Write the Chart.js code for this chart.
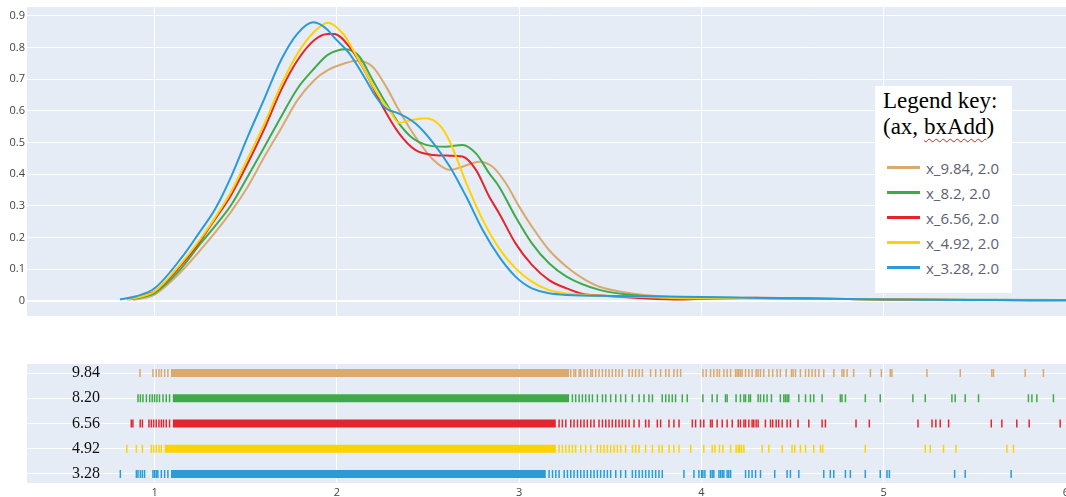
<!DOCTYPE html>
<html><head><meta charset="utf-8">
<script src="https://cdn.jsdelivr.net/npm/chart.js@4.4.0/dist/chart.umd.min.js"></script>
<style>
html,body{margin:0;padding:0;background:#fff;width:1066px;height:497px;overflow:hidden;}
#top{position:absolute;left:0;top:0;}
#rug{position:absolute;left:0;top:330px;}
#legend{position:absolute;left:875px;top:86px;width:137px;height:207px;background:#fff;box-sizing:border-box;}
#legend .title{font-family:"Liberation Serif",serif;font-size:23px;line-height:26px;color:#000;padding:2px 0 0 8px;}
#legend .sp{text-decoration:underline wavy #e02020;text-decoration-thickness:1px;text-underline-offset:4px;text-decoration-skip-ink:none;}
#items{position:absolute;left:0;top:69px;}
#items .row{height:25px;display:flex;align-items:center;}
#items .sw{width:33px;height:3px;margin-left:12px;}
#items .tx{margin-left:6px;font-family:"Open Sans",sans-serif;font-size:15px;color:#5b6272;}
</style></head>
<body>
<canvas id="top" width="1066" height="330"></canvas>
<canvas id="rug" width="1066" height="167"></canvas>
<div id="legend"><div class="title">Legend key:<br>(ax, <span class="sp">bxAdd</span>)</div><div id="items"></div></div>
<script>
// ---------- DATA ----------
const seriesNames = ['x_9.84, 2.0', 'x_8.2, 2.0', 'x_6.56, 2.0', 'x_4.92, 2.0', 'x_3.28, 2.0'];
const rugLabels = ['9.84', '8.20', '6.56', '4.92', '3.28'];
const xTicks = [1, 2, 3, 4, 5, 6];
const xTickLabels = ['1', '2', '3', '4', '5', '6'];
const yTicks = [0, 0.1, 0.2, 0.3, 0.4, 0.5, 0.6, 0.7, 0.8, 0.9];
const yTickLabels = ['0', '0.1', '0.2', '0.3', '0.4', '0.5', '0.6', '0.7', '0.8', '0.9'];

// density curves (x, y)
const kde984X = [0.88, 0.95, 1.0, 1.146, 1.25, 1.329, 1.42, 1.511, 1.603, 1.694, 1.785, 1.877, 1.95, 2.04, 2.11, 2.196, 2.27, 2.34, 2.43, 2.53, 2.62, 2.689, 2.781, 2.854, 2.927, 3.0, 3.07, 3.164, 3.26, 3.347, 3.44, 3.62, 3.8, 4.0, 4.3, 4.8, 5.2, 5.6, 6.0];
const kde984Y = [0.004, 0.01, 0.02, 0.093, 0.16, 0.214, 0.282, 0.361, 0.456, 0.545, 0.635, 0.698, 0.729, 0.75, 0.759, 0.74, 0.677, 0.603, 0.519, 0.445, 0.414, 0.424, 0.44, 0.424, 0.372, 0.298, 0.235, 0.161, 0.108, 0.072, 0.045, 0.024, 0.014, 0.008, 0.009, 0.006, 0.004, 0.003, 0.002];
const kde82X = [0.86, 0.95, 1.0, 1.146, 1.25, 1.329, 1.42, 1.511, 1.603, 1.694, 1.785, 1.877, 1.95, 2.05, 2.123, 2.196, 2.27, 2.34, 2.416, 2.489, 2.598, 2.689, 2.763, 2.836, 2.89, 2.98, 3.07, 3.164, 3.26, 3.44, 3.62, 3.8, 4.1, 4.5, 5.0, 5.5, 6.0];
const kde82Y = [0.005, 0.015, 0.025, 0.103, 0.18, 0.235, 0.303, 0.393, 0.487, 0.582, 0.672, 0.735, 0.777, 0.795, 0.772, 0.698, 0.624, 0.561, 0.514, 0.493, 0.487, 0.493, 0.466, 0.403, 0.361, 0.266, 0.182, 0.119, 0.077, 0.035, 0.019, 0.012, 0.01, 0.008, 0.005, 0.004, 0.003];
const kde656X = [0.85, 0.95, 1.0, 1.146, 1.25, 1.329, 1.42, 1.511, 1.603, 1.694, 1.785, 1.877, 1.95, 1.986, 2.068, 2.16, 2.251, 2.34, 2.43, 2.53, 2.62, 2.689, 2.763, 2.836, 2.89, 2.98, 3.07, 3.164, 3.26, 3.35, 3.44, 3.7, 3.9, 4.3, 4.8, 5.2, 5.6, 6.0];
const kde656Y = [0.005, 0.02, 0.03, 0.114, 0.19, 0.256, 0.335, 0.435, 0.545, 0.666, 0.761, 0.824, 0.843, 0.843, 0.803, 0.719, 0.614, 0.53, 0.477, 0.461, 0.459, 0.456, 0.414, 0.329, 0.277, 0.182, 0.114, 0.066, 0.04, 0.022, 0.017, 0.008, 0.005, 0.01, 0.006, 0.004, 0.003, 0.002];
const kde492X = [0.85, 0.95, 1.0, 1.146, 1.25, 1.329, 1.42, 1.511, 1.603, 1.694, 1.785, 1.877, 1.95, 2.04, 2.068, 2.16, 2.233, 2.288, 2.34, 2.416, 2.489, 2.562, 2.62, 2.71, 2.8, 2.89, 2.98, 3.07, 3.16, 3.26, 3.6, 3.9, 4.3, 4.8, 5.2, 5.6, 6.0];
const kde492Y = [0.005, 0.018, 0.03, 0.119, 0.195, 0.261, 0.345, 0.451, 0.561, 0.682, 0.782, 0.851, 0.879, 0.84, 0.814, 0.719, 0.645, 0.603, 0.563, 0.572, 0.577, 0.556, 0.503, 0.372, 0.256, 0.166, 0.103, 0.061, 0.035, 0.024, 0.014, 0.009, 0.008, 0.006, 0.004, 0.003, 0.002];
const kde328X = [0.81, 0.9, 1.0, 1.146, 1.25, 1.329, 1.42, 1.511, 1.603, 1.694, 1.785, 1.87, 1.95, 1.977, 2.068, 2.16, 2.214, 2.27, 2.34, 2.43, 2.53, 2.62, 2.71, 2.8, 2.89, 2.98, 3.07, 3.26, 3.5, 3.8, 4.1, 4.4, 4.8, 5.2, 5.6, 6.0];
const kde328Y = [0.005, 0.015, 0.04, 0.135, 0.22, 0.287, 0.393, 0.519, 0.64, 0.761, 0.845, 0.88, 0.856, 0.837, 0.782, 0.698, 0.645, 0.608, 0.592, 0.561, 0.498, 0.424, 0.329, 0.224, 0.14, 0.077, 0.04, 0.019, 0.016, 0.014, 0.012, 0.009, 0.006, 0.004, 0.003, 0.002];

// rug: solid dense band (start, end) per series, and the separately visible marks
const denseStart = [1.09, 1.10, 1.10, 1.055, 1.09];
const denseEnd = [3.274, 3.274, 3.201, 3.201, 3.146];
const rug984 = [0.92, 0.991, 1.009, 1.024, 1.037, 1.055, 1.073, 3.283, 3.30, 3.31, 3.329, 3.338, 3.356, 3.374, 3.393, 3.402, 3.42, 3.438, 3.457, 3.475, 3.493, 3.511, 3.53, 3.548, 3.566, 3.603, 3.621, 3.639, 3.658, 3.676, 3.721, 3.749, 3.776, 3.804, 3.822, 3.849, 3.868, 3.886, 4.008, 4.026, 4.05, 4.068, 4.086, 4.099, 4.123, 4.141, 4.16, 4.187, 4.196, 4.205, 4.214, 4.223, 4.242, 4.26, 4.278, 4.3, 4.311, 4.324, 4.342, 4.37, 4.391, 4.415, 4.433, 4.465, 4.494, 4.503, 4.516, 4.543, 4.571, 4.589, 4.607, 4.625, 4.644, 4.671, 4.726, 4.771, 4.781, 4.799, 4.835, 4.927, 4.987, 5.036, 5.045, 5.237, 5.42, 5.593, 5.602, 5.776, 5.876];
const rug82 = [0.909, 0.922, 0.936, 0.955, 0.973, 0.987, 1.0, 1.013, 1.027, 1.046, 1.064, 1.082, 3.292, 3.31, 3.329, 3.347, 3.365, 3.384, 3.402, 3.429, 3.457, 3.475, 3.502, 3.53, 3.557, 3.584, 3.621, 3.658, 3.685, 3.712, 3.731, 3.785, 3.804, 3.822, 3.84, 3.858, 3.895, 3.922, 4.008, 4.059, 4.086, 4.132, 4.141, 4.19, 4.214, 4.233, 4.242, 4.26, 4.269, 4.311, 4.324, 4.342, 4.36, 4.384, 4.433, 4.452, 4.461, 4.47, 4.479, 4.534, 4.571, 4.598, 4.616, 4.662, 4.762, 4.771, 4.79, 4.899, 4.981, 5.16, 5.228, 5.374, 5.392, 5.447, 5.52, 5.794, 5.813, 5.84, 5.931];
const rug656 = [0.872, 0.881, 0.921, 0.933, 0.969, 0.982, 0.995, 1.009, 1.024, 1.037, 1.049, 1.064, 1.082, 3.219, 3.237, 3.256, 3.283, 3.301, 3.32, 3.338, 3.356, 3.374, 3.393, 3.411, 3.438, 3.457, 3.475, 3.493, 3.511, 3.53, 3.548, 3.566, 3.584, 3.603, 3.63, 3.658, 3.694, 3.712, 3.758, 3.776, 3.822, 3.849, 3.877, 3.95, 3.968, 3.995, 4.013, 4.05, 4.059, 4.086, 4.114, 4.141, 4.169, 4.202, 4.214, 4.233, 4.242, 4.26, 4.278, 4.287, 4.3, 4.311, 4.351, 4.379, 4.391, 4.41, 4.424, 4.443, 4.47, 4.488, 4.53, 4.589, 4.662, 4.68, 4.848, 4.921, 5.188, 5.265, 5.286, 5.31, 5.356, 5.59, 5.648, 5.73, 5.798, 5.968];
const rug492 = [0.848, 0.9, 0.933, 0.982, 0.995, 1.009, 1.024, 1.037, 3.219, 3.237, 3.256, 3.274, 3.292, 3.31, 3.338, 3.365, 3.393, 3.429, 3.447, 3.466, 3.484, 3.502, 3.521, 3.539, 3.557, 3.584, 3.621, 3.639, 3.658, 3.694, 3.731, 3.767, 3.785, 3.822, 3.849, 3.877, 3.941, 4.013, 4.059, 4.074, 4.099, 4.118, 4.16, 4.19, 4.202, 4.209, 4.22, 4.233, 4.333, 4.37, 4.443, 4.497, 4.512, 4.543, 4.571, 4.616, 4.653, 4.665, 4.899, 5.228, 5.255, 5.328, 5.396, 5.676, 5.712];
const rug328 = [0.812, 0.9, 0.909, 0.922, 0.933, 0.945, 0.991, 1.0, 1.009, 1.018, 1.037, 1.055, 1.073, 3.164, 3.183, 3.201, 3.219, 3.247, 3.265, 3.283, 3.301, 3.32, 3.338, 3.356, 3.374, 3.393, 3.411, 3.429, 3.447, 3.466, 3.484, 3.502, 3.53, 3.557, 3.584, 3.621, 3.639, 3.658, 3.676, 3.694, 3.712, 3.731, 3.749, 3.767, 3.785, 3.904, 3.959, 3.986, 4.001, 4.008, 4.019, 4.05, 4.059, 4.068, 4.096, 4.105, 4.114, 4.123, 4.141, 4.15, 4.16, 4.242, 4.26, 4.278, 4.297, 4.324, 4.402, 4.47, 4.488, 4.534, 4.671, 4.707, 4.726, 4.79, 4.817, 4.899, 4.981, 5.018, 5.031, 5.389, 5.447, 5.699];

// ---------- STYLE ----------
const colors = ['#D9A96E', '#3FAA48', '#E3262D', '#FFD200', '#2A9BD7'];
const FONT = '"Open Sans", sans-serif';
const kdeX = [kde984X, kde82X, kde656X, kde492X, kde328X];
const kdeY = [kde984Y, kde82Y, kde656Y, kde492Y, kde328Y];
const rugs = [rug984, rug82, rug656, rug492, rug328];

const plotBg = {
  id: 'plotBg',
  beforeDraw(chart) {
    const {ctx, chartArea: a} = chart;
    ctx.save();
    ctx.fillStyle = '#E5ECF6';
    ctx.fillRect(a.left, a.top, a.right - a.left, a.bottom - a.top);
    ctx.restore();
  }
};

const xScaleBase = (showLabels) => ({
  type: 'linear', min: 0.3, max: 6.0,
  afterBuildTicks: s => { s.ticks = xTicks.map(v => ({value: v})); },
  ticks: {display: showLabels, autoSkip: false, maxRotation: 0, padding: 3,
    font: {family: FONT, size: 11}, color: '#444',
    callback: (v, i) => xTickLabels[i]},
  grid: {color: '#ffffff', lineWidth: 1, drawTicks: false},
  border: {display: false},
  afterFit: s => { s.height = showLabels ? 14 : 0; s.paddingLeft = 0; s.paddingRight = 0; s.paddingTop = 0; s.paddingBottom = 0; }
});

// ---------- TOP: density ----------
const topChart = new Chart(document.getElementById('top'), {
  type: 'scatter',
  data: {
    datasets: seriesNames.map((name, i) => ({
      label: name,
      data: kdeX[i].map((x, j) => ({x: x, y: kdeY[i][j]})),
      showLine: true,
      borderColor: colors[i],
      backgroundColor: colors[i],
      borderWidth: 2,
      pointRadius: 0,
      cubicInterpolationMode: 'monotone',
      order: seriesNames.length - 1 - i
    }))
  },
  options: {
    responsive: false, animation: false,
    layout: {autoPadding: false, padding: {top: 7, bottom: 14, left: 0, right: 0}},
    plugins: {legend: {display: false}, tooltip: {enabled: false}},
    scales: {
      x: xScaleBase(false),
      y: {
        min: -0.0474, max: 0.9284,
        afterBuildTicks: s => { s.ticks = yTicks.map(v => ({value: v})); },
        ticks: {padding: 2, font: {family: FONT, size: 11}, color: '#444',
          callback: (v, i) => yTickLabels[i]},
        grid: {color: '#ffffff', lineWidth: c => (c.tick && c.tick.value === 0) ? 2 : 1, drawTicks: false},
        border: {display: false},
        afterFit: s => { s.width = 27; s.paddingTop = 0; s.paddingBottom = 0; }
      }
    }
  },
  plugins: [plotBg]
});

// ---------- BOTTOM: rug ----------
const rugDatasets = [];
seriesNames.forEach((name, i) => {
  const row = rugLabels.length - 1 - i;
  rugDatasets.push({
    label: name + ' band',
    data: [{x: denseStart[i], y: row}, {x: denseEnd[i], y: row}],
    showLine: true, borderColor: colors[i], borderWidth: 8, borderCapStyle: 'butt',
    pointRadius: 0
  });
  rugDatasets.push({
    label: name,
    data: rugs[i].map(x => ({x: x, y: row})),
    showLine: false,
    pointStyle: 'line', pointRadius: 4, pointRotation: 90,
    pointBorderWidth: 1.5, pointBorderColor: colors[i], pointBackgroundColor: colors[i]
  });
});

new Chart(document.getElementById('rug'), {
  type: 'scatter',
  data: {datasets: rugDatasets},
  options: {
    responsive: false, animation: false,
    layout: {autoPadding: false, padding: {top: 34, bottom: 0, left: 0, right: 0}},
    plugins: {legend: {display: false}, tooltip: {enabled: false}},
    scales: {
      x: xScaleBase(true),
      y: {
        min: -0.357, max: 4.357,
        afterBuildTicks: s => { s.ticks = rugLabels.map((l, i) => ({value: rugLabels.length - 1 - i})); },
        ticks: {mirror: true, padding: 45, font: {family: '"Liberation Serif", serif', size: 16}, color: '#111',
          callback: v => rugLabels[rugLabels.length - 1 - v]},
        grid: {color: '#ffffff', lineWidth: 1, drawTicks: false},
        border: {display: false},
        afterFit: s => { s.width = 27; s.paddingTop = 0; s.paddingBottom = 0; }
      }
    }
  },
  plugins: [plotBg]
});

// ---------- HTML legend from the density datasets ----------
const items = document.getElementById('items');
topChart.data.datasets.forEach(ds => {
  const row = document.createElement('div'); row.className = 'row';
  const sw = document.createElement('div'); sw.className = 'sw'; sw.style.background = ds.borderColor;
  const tx = document.createElement('div'); tx.className = 'tx'; tx.textContent = ds.label;
  row.appendChild(sw); row.appendChild(tx); items.appendChild(row);
});
</script>
</body></html>
